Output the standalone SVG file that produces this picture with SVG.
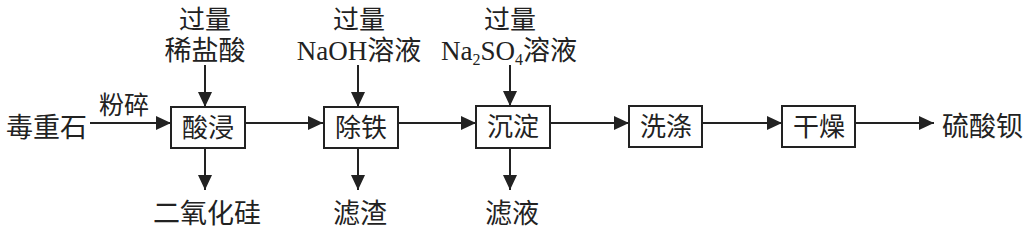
<svg xmlns="http://www.w3.org/2000/svg" width="1034" height="227" viewBox="0 0 1034 227">
<style>
text{font-family:"Liberation Serif","Noto Sans CJK SC",serif;fill:#222;font-size:26px;}
.c{text-anchor:middle;}
.box{fill:#fff;stroke:#222;stroke-width:2;}
.ln{stroke:#222;stroke-width:2;fill:none;marker-end:url(#ah);}
</style>
<defs>
<marker id="ah" markerWidth="15" markerHeight="14" refX="15" refY="7" orient="auto" markerUnits="userSpaceOnUse">
<path d="M0,0 L15,7 L0,14 Z" fill="#222"/>
</marker>
</defs>
<rect width="1034" height="227" fill="#fff"/>
<g id="connectors">
<line class="ln" x1="90" y1="123" x2="171" y2="123"/>
<line class="ln" x1="245" y1="123" x2="323" y2="123"/>
<line class="ln" x1="398" y1="123" x2="476" y2="123"/>
<line class="ln" x1="550" y1="123" x2="629" y2="123"/>
<line class="ln" x1="703" y1="123" x2="782" y2="123"/>
<line class="ln" x1="856" y1="123" x2="934" y2="123"/>
<line class="ln" x1="205" y1="65" x2="205" y2="107"/>
<line class="ln" x1="358" y1="65" x2="358" y2="107"/>
<line class="ln" x1="510" y1="65" x2="510" y2="106"/>
<line class="ln" x1="205" y1="148" x2="205" y2="190"/>
<line class="ln" x1="358" y1="148" x2="358" y2="190"/>
<line class="ln" x1="510" y1="148" x2="510" y2="190"/>
</g>
<g id="n-start"><text x="6" y="137" style="font-size:27px">毒重石</text></g>
<g id="l-crush"><text x="99" y="114" style="font-size:25px">粉碎</text></g>
<g id="n-acid"><rect class="box" x="171" y="107" width="74" height="41"/><text class="c" x="208" y="137">酸浸</text></g>
<g id="n-fe"><rect class="box" x="324" y="107" width="74" height="41"/><text class="c" x="361" y="137">除铁</text></g>
<g id="n-ppt"><rect class="box" x="476" y="106" width="74" height="42"/><text class="c" x="513" y="136">沉淀</text></g>
<g id="n-wash"><rect class="box" x="629" y="106" width="73" height="41"/><text class="c" x="666" y="136">洗涤</text></g>
<g id="n-dry"><rect class="box" x="782" y="106" width="73" height="41"/><text class="c" x="819" y="136">干燥</text></g>
<g id="n-end"><text x="942" y="136" style="font-size:27px">硫酸钡</text></g>
<g id="in-hcl"><text class="c" x="205" y="29">过量</text><text class="c" x="205" y="60" style="font-size:27px">稀盐酸</text></g>
<g id="in-naoh"><text class="c" x="359" y="29">过量</text><text class="c" x="359" y="60" style="font-size:27px">NaOH溶液</text></g>
<g id="in-na2so4"><text class="c" x="510" y="29">过量</text><text x="441" y="60" style="font-size:27px">Na<tspan dy="5" style="font-size:16px">2</tspan><tspan dy="-5">SO</tspan><tspan dy="5" style="font-size:16px">4</tspan><tspan dy="-5">溶液</tspan></text></g>
<g id="out-sio2"><text class="c" x="207" y="223" style="font-size:27px">二氧化硅</text></g>
<g id="out-slag"><text class="c" x="360" y="223" style="font-size:27px">滤渣</text></g>
<g id="out-filtrate"><text class="c" x="512" y="223" style="font-size:27px">滤液</text></g>
</svg>
